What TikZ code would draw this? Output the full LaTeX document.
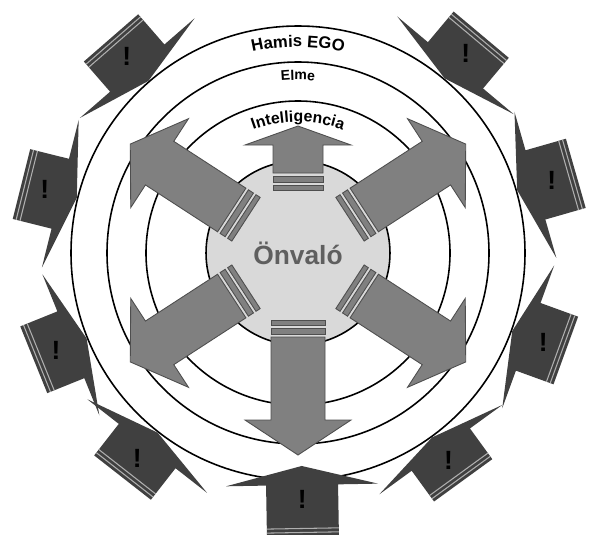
\documentclass[tikz,border=0pt]{standalone}
\usepackage{fontspec}
\setmainfont{Liberation Sans}
\usetikzlibrary{decorations.text}
\definecolor{cDisc}{RGB}{217,217,217}
\definecolor{cArrow}{RGB}{128,128,128}
\definecolor{cArrowEdge}{RGB}{78,78,78}
\definecolor{cDark}{RGB}{64,64,64}
\definecolor{cStripe}{RGB}{175,175,175}
\definecolor{cSelf}{RGB}{95,95,95}
\tikzset{
	ring/.style={draw=black, line width=0.9pt},
	disc/.style={circle, draw=black, line width=0.9pt, fill=cDisc,
		minimum size=3.68cm, inner sep=0pt,
		font=\fontsize{15}{18}\selectfont\bfseries, text=cSelf},
	lightarr/.style={fill=cArrow, draw=cArrowEdge, line width=0.5pt},
	darkarr/.style={fill=cDark},
	stripe/.style={draw=cStripe, line width=0.6pt},
	jelzo/.style={font=\fontsize{15}{18}\selectfont\bfseries, inner sep=0pt},
}
% striped light arrow, pointing outward
% #1 angle, #2 tail, #3 shaft start, #4 head base, #5 tip, #6 shaft half width, #7 head half width
\newcommand{\kifele}[7]{%
	\begin{scope}[rotate=#1]
		\filldraw[lightarr] (#2,-#6) -- ({#2+5},-#6) -- ({#2+5},#6) -- (#2,#6) -- cycle;
		\filldraw[lightarr] ({#2+8},-#6) -- ({#2+14},-#6) -- ({#2+14},#6) -- ({#2+8},#6) -- cycle;
		\filldraw[lightarr] (#3,-#6) -- (#4,-#6) -- (#4,-#7) -- (#5,0)
			-- (#4,#7) -- (#4,#6) -- (#3,#6) -- cycle;
	\end{scope}}
% dark striped arrow, pointing inward
% #1 name, #2 angle, #3 tip, #4 front, #5 back, #6 radius of the mark
\newcommand{\veszely}[6]{%
	\begin{scope}[rotate=#2]
		\fill[darkarr] (#3,0) -- (#4,76) -- (#4,36) -- (#5,36)
			-- (#5,-36) -- (#4,-36) -- (#4,-76) -- cycle;
		\draw[stripe] ({#5-3.5},-36) -- ({#5-3.5},36);
		\draw[stripe] ({#5-7.5},-36) -- ({#5-7.5},36);
	\end{scope}
	\node[jelzo] (#1) at (#2:#6) {!};}

\begin{document}
\begin{tikzpicture}[x=0.02cm,y=0.02cm]
	\useasboundingbox (-298,-281) rectangle (292,253);

	% Rings
	\draw[ring] (0,0) circle[radius=227];
	\draw[ring] (0,0) circle[radius=191];
	\draw[ring] (0,0) circle[radius=152];

	% Inner disc
	\node[disc] (onvalo) at (0,0) {Önvaló};

	% Light arrows (outward)
	\kifele{90}{63}{80}{108}{127}{25}{53}
	\kifele{33}{62}{79}{165}{200}{26}{53}
	\kifele{147}{62}{79}{165}{200}{26}{53}
	\kifele{213}{62}{79}{165}{200}{26}{53}
	\kifele{-33}{62}{79}{165}{200}{26}{53}
	\kifele{-90}{67}{84}{167}{202}{27}{53}

	% Dark arrows (inward)
	\veszely{v1}{50}{228}{245}{285}{261}
	\veszely{v2}{16}{228}{247}{289}{264}
	\veszely{v3}{-20}{228}{245}{285}{261}
	\veszely{v4}{-54}{228}{243}{281}{256}
	\veszely{v5}{-89}{213}{232}{283}{246}
	\veszely{v6}{232}{228}{245}{285}{261}
	\veszely{v7}{202}{228}{245}{285}{261}
	\veszely{v8}{166}{228}{245}{285}{261}
	\veszely{v9}{131}{228}{245}{285}{261}

	% Ring labels
	\path[decorate, decoration={text along path, text align=center,
		text={|\fontsize{9.5}{11}\selectfont\bfseries|Hamis EGO}}]
		(160:206) arc[start angle=160, end angle=20, radius=206];
	\path[decorate, decoration={text along path, text align=center,
		text={|\fontsize{8}{10}\selectfont\bfseries|Elme}}]
		(160:173) arc[start angle=160, end angle=20, radius=173];
	\path[decorate, decoration={text along path, text align=center,
		text={|\fontsize{9}{11}\selectfont\bfseries|Intelligencia}}]
		(160:131) arc[start angle=160, end angle=20, radius=131];
\end{tikzpicture}
\end{document}
